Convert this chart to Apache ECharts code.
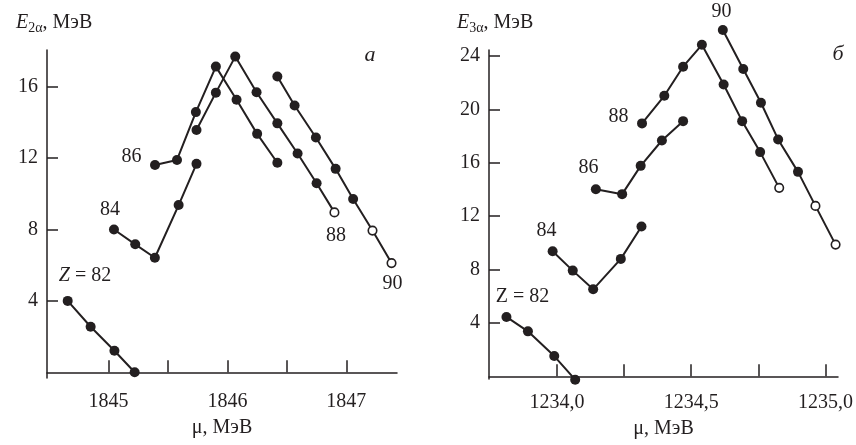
<!DOCTYPE html>
<html>
<head>
<meta charset="utf-8">
<script src="https://cdn.jsdelivr.net/npm/echarts@6/dist/echarts.min.js"></script>
<style>html,body{margin:0;padding:0;background:#fff}#c{width:856px;height:445px}</style>
</head>
<body>
<div id="c"></div>
<script>
// ---- Panel а : E_2α vs μ (MeV) ----
const leftZ82 = [[1844.657, 4.00], [1844.85, 2.55], [1845.05, 1.21], [1845.22, 0.0]];
const leftZ84 = [[1845.046, 8.00], [1845.225, 7.17], [1845.39, 6.42], [1845.59, 9.37], [1845.74, 11.68]];
const leftZ86 = [[1845.391, 11.62], [1845.576, 11.90], [1845.735, 14.58], [1845.903, 17.13], [1846.077, 15.27], [1846.25, 13.36], [1846.42, 11.74]];
const leftZ88 = [[1845.74, 13.58], [1845.903, 15.67], [1846.066, 17.69], [1846.245, 15.69], [1846.42, 13.95], [1846.59, 12.26], [1846.75, 10.59], [1846.90, 8.96]];
const leftZ90 = [[1846.42, 16.58], [1846.565, 14.95], [1846.744, 13.16], [1846.91, 11.40], [1847.057, 9.71], [1847.22, 7.94], [1847.38, 6.12]];
const leftOpen88 = [7];
const leftOpen90 = [5, 6];
const leftXTicks = [1845, 1845.5, 1846, 1846.5, 1847];
const leftXLabels = [1845, 1846, 1847];
const leftYTicks = [4, 8, 12, 16];

// ---- Panel б : E_3α vs μ (MeV) ----
const rightZ82 = [[1233.812, 4.45], [1233.892, 3.37], [1233.99, 1.52], [1234.068, -0.25]];
const rightZ84 = [[1233.984, 9.37], [1234.059, 7.92], [1234.135, 6.52], [1234.238, 8.80], [1234.315, 11.22]];
const rightZ86 = [[1234.145, 14.02], [1234.243, 13.65], [1234.312, 15.77], [1234.391, 17.67], [1234.47, 19.12]];
const rightZ88 = [[1234.317, 18.95], [1234.40, 21.02], [1234.47, 23.20], [1234.54, 24.84], [1234.621, 21.87], [1234.69, 19.12], [1234.757, 16.80], [1234.828, 14.12]];
const rightZ90 = [[1234.618, 25.95], [1234.694, 23.02], [1234.76, 20.50], [1234.824, 17.75], [1234.898, 15.32], [1234.963, 12.77], [1235.038, 9.87]];
const rightOpen88 = [7];
const rightOpen90 = [5, 6];
const rightXTicks = [1234.0, 1234.25, 1234.5, 1234.75, 1235.0];
const rightXLabels = [1234.0, 1234.5, 1235.0];
const rightYTicks = [4, 8, 12, 16, 20, 24];

const INK = '#231f20';
const SERIF = 'Liberation Serif';

function mkData(points, openIdx) {
  return points.map((p, i) => openIdx && openIdx.indexOf(i) >= 0
    ? { value: p, itemStyle: { color: '#fff', borderColor: INK, borderWidth: 1.6 }, symbolSize: 8.5 }
    : { value: p });
}
function mkSeries(points, openIdx, idx) {
  return {
    type: 'line', xAxisIndex: idx, yAxisIndex: idx, data: mkData(points, openIdx),
    symbol: 'circle', symbolSize: 10, showAllSymbol: true, clip: false, animation: false,
    lineStyle: { color: INK, width: 2 }, itemStyle: { color: INK, borderWidth: 0 }
  };
}

const chart = echarts.init(document.getElementById('c'));
const axisCommon = {
  type: 'value',
  axisLine: { show: true, lineStyle: { color: INK, width: 1.5 } },
  splitLine: { show: false },
  axisTick: { show: true, inside: true, length: 11, lineStyle: { color: INK, width: 1.5 } },
  axisLabel: { color: INK, fontFamily: SERIF, fontSize: 20, fontWeight: 'normal' }
};
function xAx(idx, min, max, ticks, labels, fmt) {
  return Object.assign({}, axisCommon, {
    gridIndex: idx, min: min, max: max,
    axisTick: Object.assign({}, axisCommon.axisTick, { customValues: ticks, length: 12 }),
    axisLabel: Object.assign({}, axisCommon.axisLabel, { customValues: labels, margin: 14, formatter: fmt, showMinLabel: true, showMaxLabel: true }),
    name: 'μ, МэВ', nameLocation: 'middle', nameGap: 40,
    nameTextStyle: { color: INK, fontFamily: SERIF, fontSize: 20, fontWeight: 'normal' }
  });
}
function yAx(idx, min, max, ticks) {
  return Object.assign({}, axisCommon, {
    gridIndex: idx, min: min, max: max,
    axisTick: Object.assign({}, axisCommon.axisTick, { customValues: ticks }),
    axisLabel: Object.assign({}, axisCommon.axisLabel, { customValues: ticks, margin: 9 })
  });
}

const titleRich = {
  e: { fontFamily: SERIF, fontSize: 20, fontStyle: 'italic', fontWeight: 'normal', color: INK },
  s: { fontFamily: SERIF, fontSize: 14, fontWeight: 'normal', color: INK, verticalAlign: 'bottom', padding: [10, 0, 0, 0] },
  n: { fontFamily: SERIF, fontSize: 20, fontWeight: 'normal', color: INK }
};

chart.setOption({
  animation: false,
  backgroundColor: '#fff',
  title: [
    { left: 11, top: 6, text: '{e|E}{s|2α}{n|, МэВ}', textStyle: { fontWeight: 'normal', fontFamily: SERIF, rich: titleRich } },
    { left: 452, top: 6, text: '{e|E}{s|3α}{n|, МэВ}', textStyle: { fontWeight: 'normal', fontFamily: SERIF, rich: titleRich } }
  ],
  grid: [
    { left: 47, top: 50, width: 350, height: 328 },
    { left: 489, top: 50, width: 349, height: 329 }
  ],
  xAxis: [
    xAx(0, 1844.483, 1847.426, leftXTicks, leftXLabels, v => String(Math.round(v))),
    xAx(1, 1233.747, 1235.047, rightXTicks, rightXLabels, v => v.toFixed(1).replace('.', ','))
  ],
  yAxis: [
    yAx(0, -0.32, 18.06, leftYTicks),
    yAx(1, -0.2, 24.45, rightYTicks)
  ],
  series: [
    mkSeries(leftZ82, null, 0), mkSeries(leftZ84, null, 0), mkSeries(leftZ86, null, 0),
    mkSeries(leftZ88, leftOpen88, 0), mkSeries(leftZ90, leftOpen90, 0),
    mkSeries(rightZ82, null, 1), mkSeries(rightZ84, null, 1), mkSeries(rightZ86, null, 1),
    mkSeries(rightZ88, rightOpen88, 1), mkSeries(rightZ90, rightOpen90, 1)
  ],
  graphic: [
    { type: 'text', x: 85, y: 276, style: { text: '{z|Z} = 82', rich: { z: { fontStyle: 'italic', fontFamily: SERIF, fontSize: 20, fill: INK } }, font: '20px ' + SERIF, fill: INK, align: 'center', verticalAlign: 'middle' } },
    { type: 'text', x: 110, y: 210, style: { text: '84', font: '20px ' + SERIF, fill: INK, align: 'center', verticalAlign: 'middle' } },
    { type: 'text', x: 131.5, y: 157, style: { text: '86', font: '20px ' + SERIF, fill: INK, align: 'center', verticalAlign: 'middle' } },
    { type: 'text', x: 336, y: 236, style: { text: '88', font: '20px ' + SERIF, fill: INK, align: 'center', verticalAlign: 'middle' } },
    { type: 'text', x: 392.5, y: 284, style: { text: '90', font: '20px ' + SERIF, fill: INK, align: 'center', verticalAlign: 'middle' } },
    { type: 'text', x: 370, y: 55, style: { text: 'а', font: 'italic 22px ' + SERIF, fill: INK, align: 'center', verticalAlign: 'middle' } },
    { type: 'text', x: 522.5, y: 297, style: { text: 'Z = 82', font: '20px ' + SERIF, fill: INK, align: 'center', verticalAlign: 'middle' } },
    { type: 'text', x: 546.5, y: 231, style: { text: '84', font: '20px ' + SERIF, fill: INK, align: 'center', verticalAlign: 'middle' } },
    { type: 'text', x: 588.5, y: 168, style: { text: '86', font: '20px ' + SERIF, fill: INK, align: 'center', verticalAlign: 'middle' } },
    { type: 'text', x: 618.5, y: 117, style: { text: '88', font: '20px ' + SERIF, fill: INK, align: 'center', verticalAlign: 'middle' } },
    { type: 'text', x: 721.5, y: 12, style: { text: '90', font: '20px ' + SERIF, fill: INK, align: 'center', verticalAlign: 'middle' } },
    { type: 'text', x: 838, y: 54, style: { text: 'б', font: 'italic 22px ' + SERIF, fill: INK, align: 'center', verticalAlign: 'middle' } }
  ]
});
</script>
</body>
</html>
